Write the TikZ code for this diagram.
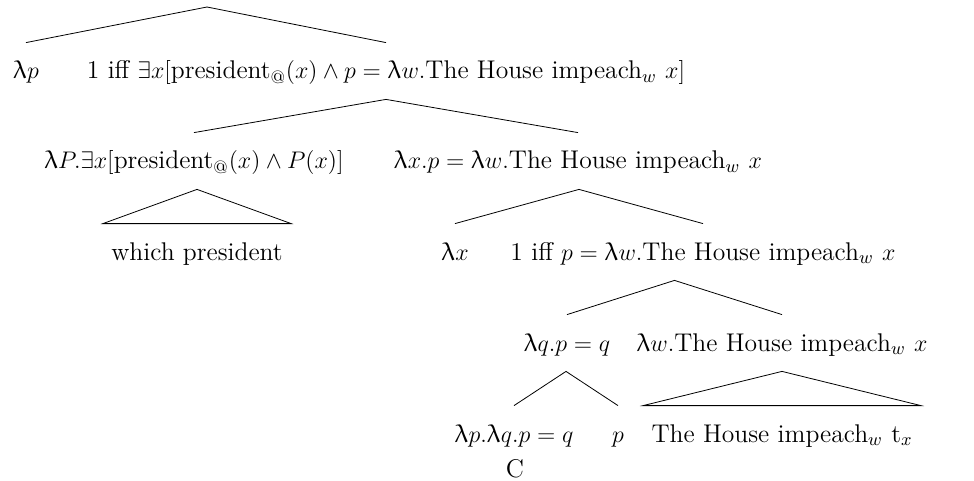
\documentclass[tikz,border=0pt]{standalone}
\usepackage{amsmath, amssymb}
\usepackage{upgreek}
\usepackage{tikz}
\usetikzlibrary{calc}

\newcommand{\lam}{\uplambda}
\newcommand{\imp}{The House impeach$_w$}

\begin{document}
\begin{tikzpicture}[x=0.5pt, y=-0.5pt, font=\fontsize{12.8}{15}\selectfont,
    lbl/.style={anchor=base, inner xsep=0pt, inner ysep=5pt, text height=13pt, text depth=5pt},
    roof/.style={lbl, inner xsep=4pt}]
  \useasboundingbox (0,0) rectangle (974,481);
  % top: no label on the root
  \coordinate (a1) at (207,7);
  \node[lbl] (lp) at (26,79) {$\lam p$};
  \node[lbl] (s1) at (386,79) {1 iff $\exists x[$president$_{\text{@}}(x)\wedge p=\lam w.$\imp\ $x]$};
  % second row
  \node[lbl] (wh) at (194,169) {$\lam P.\exists x[$president$_{\text{@}}(x)\wedge P(x)]$};
  \node[lbl] (s2) at (578,169) {$\lam x.p=\lam w.$\imp\ $x$};
  % third row
  \node[roof] (wp) at (197,260) {which president};
  \node[lbl] (lx) at (455,260) {$\lam x$};
  \node[lbl] (s3) at (703,260) {1 iff $p=\lam w.$\imp\ $x$};
  % fourth row
  \node[lbl] (lq) at (567,351) {$\lam q.p=q$};
  \node[lbl] (pr) at (782,351) {$\lam w.$\imp\ $x$};
  % bottom row
  \node[lbl] (cmp) at (514,442) {$\lam p.\lam q.p=q$};
  \node[lbl] (pv) at (618,442) {$p$};
  \node[roof] (tr) at (782,442) {\imp\ t$_x$};
  \node[anchor=base, inner sep=0pt] (c) at (515,477) {C};

  % branches
  \draw (lp.north) -- (a1) -- (s1.north);
  \foreach \p/\l/\r in {s1/wh/s2, s2/lx/s3, s3/lq/pr, lq/cmp/pv} {
    \path ($(\l)!.5!(\r)$) coordinate (m);
    \draw (\l.north) -- (m |- \p.south) -- (\r.north);
  }
  % roofs
  \draw (wp.north west) -- (wp.north |- wh.south) -- (wp.north east) -- cycle;
  \draw (tr.north west) -- (tr.north |- pr.south) -- (tr.north east) -- cycle;
\end{tikzpicture}
\end{document}
